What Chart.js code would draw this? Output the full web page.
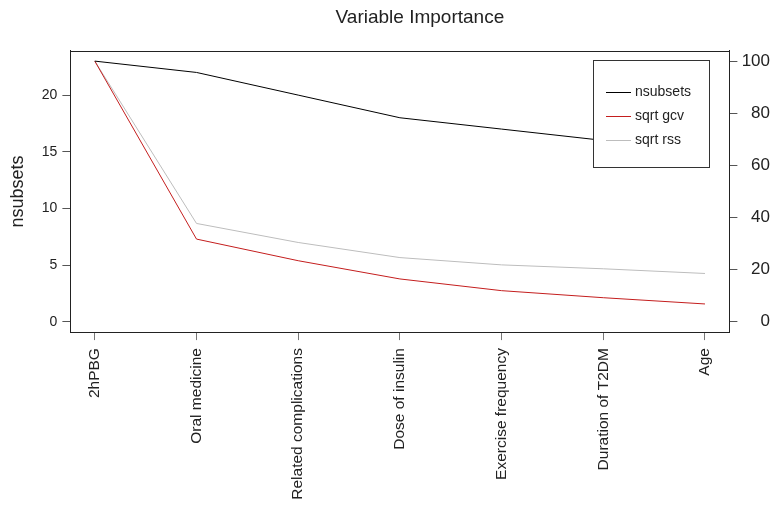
<!DOCTYPE html>
<html>
<head>
<meta charset="utf-8">
<script src="https://cdn.jsdelivr.net/npm/chart.js@4.4.1/dist/chart.umd.min.js"></script>
<style>
html, body { margin: 0; padding: 0; background: #fff; }
</style>
</head>
<body>
<canvas id="g1" width="774" height="509"></canvas>
<script>
// data
var variables = ['2hPBG', 'Oral medicine', 'Related complications', 'Dose of insulin', 'Exercise frequency', 'Duration of T2DM', 'Age'];
var nsubsets = [23, 22, 20, 18, 17, 16, 15];
var sqrtGcv = [100, 31.7, 23.4, 16.4, 11.9, 9.2, 6.8];
var sqrtRss = [100, 37.7, 30.4, 24.6, 21.8, 20.3, 18.5];
var leftTicks = [0, 5, 10, 15, 20];
var rightTicks = [0, 20, 40, 60, 80, 100];

var FONT = '"Liberation Sans", Arial, Helvetica, sans-serif';

function toPoints(arr) {
    return arr.map(function(v, i) { return {x: i + 1, y: v}; });
}

// plot frame, main title and boxed legend like base R graphics
var rStyle = {
    id: 'rStyle',
    afterDraw: function(chart) {
        var ctx = chart.ctx, ca = chart.chartArea;
        ctx.save();
        ctx.strokeStyle = '#222';
        ctx.lineWidth = 1;
        ctx.strokeRect(Math.round(ca.left) + 0.5, Math.round(ca.top) + 0.5,
            Math.round(ca.right - ca.left), Math.round(ca.bottom - ca.top));

        ctx.fillStyle = '#222';
        ctx.font = '19px ' + FONT;
        ctx.textAlign = 'center';
        ctx.textBaseline = 'middle';
        ctx.fillText('Variable Importance', (ca.left + ca.right) / 2 + 20, 18);

        var bw = 116, bh = 107;
        var bx = Math.round(ca.right - 20.4 - bw), by = Math.round(ca.top + 9.3);
        ctx.fillStyle = '#fff';
        ctx.fillRect(bx, by, bw, bh);
        ctx.strokeStyle = '#333';
        ctx.strokeRect(bx + 0.5, by + 0.5, bw, bh);
        ctx.font = '14px ' + FONT;
        ctx.textAlign = 'left';
        chart.data.datasets.forEach(function(ds, i) {
            var y = by + 31.7 + i * 24.2;
            ctx.strokeStyle = ds.borderColor;
            ctx.beginPath();
            ctx.moveTo(bx + 13, Math.round(y) + 0.5);
            ctx.lineTo(bx + 38, Math.round(y) + 0.5);
            ctx.stroke();
            ctx.fillStyle = '#222';
            ctx.fillText(ds.label, bx + 42, y);
        });
        ctx.restore();
    }
};

var ctx_1 = document.getElementById('g1');

var myChart = new Chart(ctx_1, {
    type: 'line',
    data: {
        datasets: [{
            label: 'nsubsets',
            data: toPoints(nsubsets),
            borderColor: '#000000',
            yAxisID: 'y'
        }, {
            label: 'sqrt gcv',
            data: toPoints(sqrtGcv),
            borderColor: '#c41e1e',
            yAxisID: 'y2'
        }, {
            label: 'sqrt rss',
            data: toPoints(sqrtRss),
            borderColor: '#bdbdbd',
            yAxisID: 'y2'
        }]
    },
    options: {
        responsive: false,
        animation: false,
        events: [],
        elements: {
            line: { borderWidth: 1, tension: 0 },
            point: { radius: 0 }
        },
        layout: { padding: { top: 50.7, right: 4, left: 0, bottom: 0 } },
        plugins: {
            legend: { display: false },
            tooltip: { enabled: false },
            title: { display: false }
        },
        scales: {
            x: {
                type: 'linear',
                position: 'bottom',
                min: 0.76,
                max: 7.24,
                afterBuildTicks: function(scale) {
                    scale.ticks = variables.map(function(v, i) { return {value: i + 1}; });
                },
                afterFit: function(scale) { scale.height = 176.9; },
                grid: { drawOnChartArea: false, drawTicks: true, tickLength: 8, color: '#777' },
                border: { display: true, color: '#222' },
                ticks: {
                    autoSkip: false,
                    maxRotation: 90,
                    minRotation: 90,
                    padding: 8,
                    color: '#222',
                    font: { family: FONT, size: 15.5 },
                    callback: function(value) { return variables[value - 1]; }
                }
            },
            y: {
                type: 'linear',
                position: 'left',
                min: -0.92,
                max: 23.92,
                afterBuildTicks: function(scale) {
                    scale.ticks = leftTicks.map(function(v) { return {value: v}; });
                },
                afterFit: function(scale) { scale.width = 70.4; },
                grid: { drawOnChartArea: false, drawTicks: true, tickLength: 8, color: '#555' },
                border: { display: true, color: '#222' },
                ticks: {
                    padding: 5,
                    color: '#222',
                    font: { family: FONT, size: 14 }
                },
                title: {
                    display: true,
                    text: 'nsubsets',
                    color: '#222',
                    font: { family: FONT, size: 18 },
                    padding: { top: 7, bottom: 0 }
                }
            },
            y2: {
                type: 'linear',
                position: 'right',
                min: -4,
                max: 104,
                afterBuildTicks: function(scale) {
                    scale.ticks = rightTicks.map(function(v) { return {value: v}; });
                },
                afterFit: function(scale) { scale.width = 40.6; },
                grid: { drawOnChartArea: false, drawTicks: true, tickLength: 8, color: '#555' },
                border: { display: true, color: '#222' },
                ticks: {
                    crossAlign: 'far',
                    padding: 5,
                    color: '#222',
                    font: { family: FONT, size: 17 }
                }
            }
        }
    },
    plugins: [rStyle]
});
</script>
</body>
</html>
